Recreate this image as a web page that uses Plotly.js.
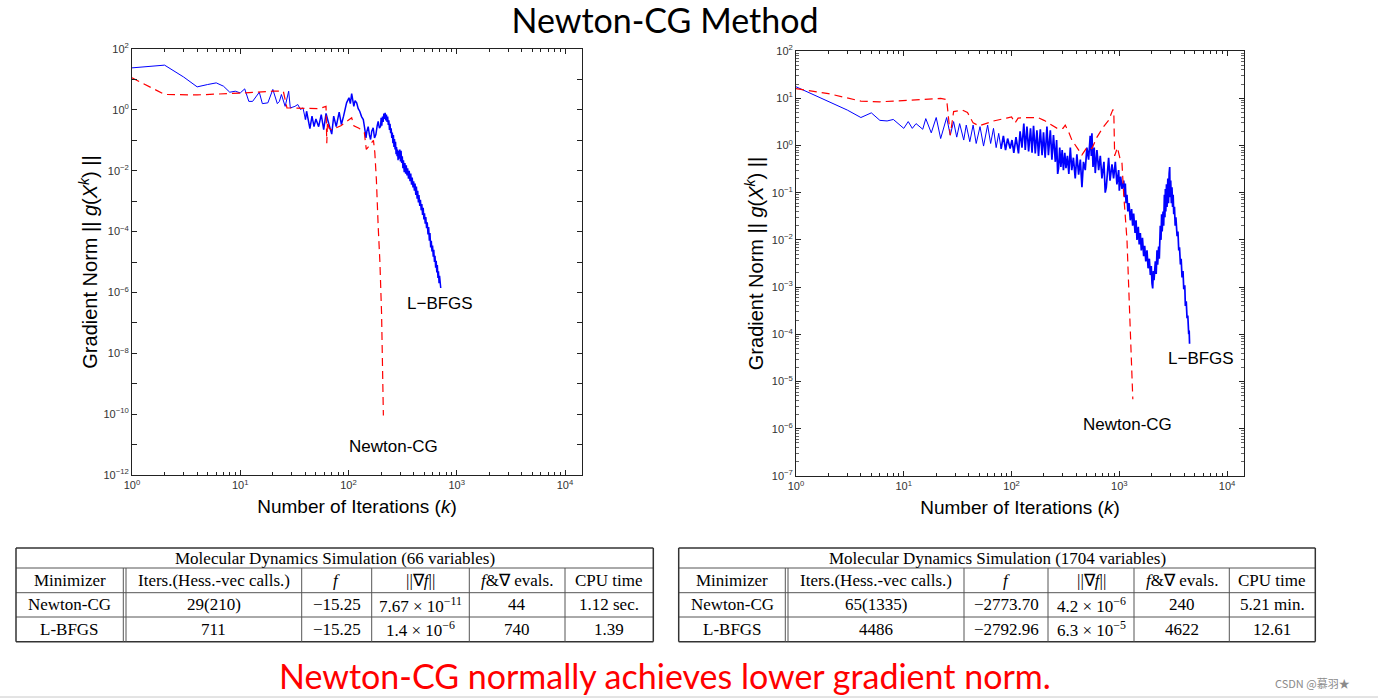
<!DOCTYPE html>
<html>
<head>
<meta charset="utf-8">
<script src="https://cdn.plot.ly/plotly-3.0.1.min.js"></script>
<style>
html,body{margin:0;padding:0;background:#fff;}
#chart{width:1378px;height:698px;}
</style>
</head>
<body>
<div id="chart"></div>
<script>
// ---------------- DATA ----------------
// Left panel: 66 variables.  [iteration (or Hess-vec calls), gradient norm]
const leftLbfgs = [[1,24],[2,29.5],[3,12],[4,5.7],[5,6.8],[6,7.7],[7,6.0],[8,3.8],[9,4.1],[10,3.6],[11,4.9],[12,1.9],[13,1.9],[14,2.6],[15,3.8],[16,1.6],[18,1.7],[20,4.7],[22,1.6],[23,1.9],[24,3.2],[26,1.3],[28,4.1],[29,1.16],[32,1.3],[34,1.5],[36,1.03],[38,1.16],[40,0.48],[41,0.9],[44,0.24],[46,0.62],[48,0.28],[50,0.5],[53,0.28],[56,0.7],[59,0.225],[62,0.76],[66,0.33],[70,0.16],[73,0.62],[77,0.28],[82,0.84],[86,0.33],[90,0.62],[96,1.7],[101,2.5],[104,1.6],[107,3.4],[110,1.8],[112,1.3],[115,2.0],[119,1.7],[123,1.1],[127,0.9],[132,0.6],[137,0.48],[141,0.25],[145,0.12],[148,0.2],[152,0.28],[156,0.15],[160,0.106],[164,0.2],[169,0.255],[174,0.12],[179,0.154],[184,0.3],[188,0.42],[193,0.25],[198,0.29],
[200,0.55],[203,0.3],[206,0.6],[209,0.4],[212,0.75],[215,0.5],[218,0.8],[221,0.45],[224,0.7],[227,0.4],[230,0.6],[233,0.32],[236,0.45],[239,0.22],[242,0.35],[245,0.17],[248,0.25],[251,0.12],[254,0.18],[257,0.08],[260,0.15],[263,0.06],[266,0.11],[269,0.05],[272,0.09],[275,0.035],[278,0.06],[281,0.03],[284,0.05],[287,0.022],[290,0.045],[294,0.025],[298,0.05],[302,0.02],[306,0.045],[310,0.018],[314,0.03],[318,0.012],[322,0.022],[327,0.009],[332,0.018],[337,0.008],[342,0.015],[347,0.007],[352,0.012],[358,0.0055],[364,0.01],[370,0.0045],[376,0.008],[382,0.0035],[388,0.006],[394,0.0028],[400,0.0045],[406,0.0022],[412,0.0038],[418,0.0016],[424,0.003],[430,0.0012],[436,0.0022],[442,0.0009],[448,0.0016],[455,0.0007],[462,0.0011],[469,0.0005],[476,0.0008],[483,0.00035],[490,0.0006],[497,0.00025],[504,0.0004],[511,0.00018],[518,0.0003],[526,0.00013],[534,0.0002],[542,0.00008],[550,0.00014],[558,0.00005],[566,0.00009],[574,0.00003],[582,0.00005],[590,0.000022],[598,0.000035],[606,0.000015],[614,0.000025],[622,0.00001],[630,0.000016],[638,0.0000065],[646,0.000011],[654,0.0000045],[662,0.000008],[670,0.000003],[678,0.000005],[686,0.000002],[694,0.0000035],[702,0.0000016],[711,0.0000014]];

const leftNewton = [[1,11.3],[2,3.2],[4,3.1],[8,3.4],[11,3.6],[20,4.1],[25,4.1],[27,1.16],[40,1.15],[54,1.1],[60,1.25],[62,1.3],[63,0.08],[64,0.42],[66,0.25],[70,0.22],[85,0.3],[100,0.45],[107,0.55],[112,0.3],[125,0.25],[140,0.18],[146,0.05],[152,0.06],[162,0.08],[170,0.1],[175,0.04],[181,0.005],[188,1.5e-4],[195,1e-5],[202,2.1e-7],[210,9e-11]];

// Right panel: 1704 variables
const rightLbfgs = [[1,17.5],[2,8.5],[3,5.6],[4,3.9],[5,4.9],[6,3.4],[7,3.3],[8,3.55],[10,2.3],[11,3.2],[12,2.3],[13,2.9],[15,2.2],[16,3.7],[18,1.85],[20,3.9],[22,1.4],[25,3.9],[27,1.65],[29,3.2],[31,1.5],[33,2.9],[36,1.3],[38,2.7],[41,1.2],[44,2.7],[47,1.1],[51,2.5],[55,0.97],[60,2.7],[64,1.1],[68,2.3],[72,0.9],[76,1.8],[80,0.85],[84,1.6],[88,0.8],[92,1.4],[97,0.86],[101,1.3],[105,0.7],[110,1.5],[116,0.68],[120,2.0],[125,0.9],[130,2.9],[134,0.8],[139,2.5],[144,0.75],[150,2.3],[155,0.7],[160,2.6],[166,0.68],[172,2.1],[178,0.6],[185,2.2],[192,0.62],[198,1.9],[205,0.55],[213,2.5],[220,0.62],[229,2.1],[237,0.5],[245,1.65],[255,0.45],[262,1.3],[268,0.25],[273,0.33],[280,0.9],[287,0.35],[295,0.8],[303,0.3],[312,0.7],[320,0.33],[330,0.6],[340,0.25],[351,0.9],[362,0.3],[375,0.55],[390,0.2],[404,0.65],[419,0.24],[435,0.5],[450,0.13],[465,0.45],[483,0.3],[500,0.9],[519,0.5],[537,1.6],[550,0.6],[557,1.8],[570,0.35],[585,0.9],[598,0.26],[620,0.8],[643,0.3],[666,0.6],[690,0.2],[720,0.45],[740,0.1],[757,0.13],[780,0.35],[796,0.55],[820,0.18],[855,0.4],[885,0.2],[918,0.45],[950,0.15],[986,0.3],[1000,0.11],[1030,0.22],[1059,0.12],[1100,0.18],
[1120,0.08],[1137,0.157],[1155,0.06],[1178,0.09],[1200,0.04],[1230,0.06],[1265,0.026],[1300,0.045],[1330,0.02],[1359,0.036],[1400,0.014],[1430,0.026],[1459,0.01],[1500,0.019],[1530,0.008],[1567,0.014],[1600,0.006],[1640,0.011],[1683,0.0045],[1720,0.0075],[1760,0.0035],[1807,0.006],[1850,0.0025],[1900,0.004],[1941,0.0018],[1980,0.0028],[2010,0.0012],[2041,0.00094],[2070,0.0022],[2100,0.0014],[2159,0.0035],[2200,0.0019],[2238,0.006],[2270,0.003],[2317,0.0072],[2350,0.004],[2400,0.02],[2437,0.01],[2470,0.035],[2500,0.015],[2545,0.04],[2580,0.02],[2620,0.09],[2650,0.03],[2675,0.12],[2700,0.04],[2740,0.15],[2772,0.05],[2820,0.2],[2860,0.06],[2900,0.25],[2934,0.35],[2960,0.08],[3000,0.18],[3040,0.06],[3082,0.13],[3120,0.05],[3160,0.09],[3199,0.035],[3250,0.05],[3300,0.02],[3350,0.03],[3436,0.012],[3500,0.015],[3560,0.006],[3620,0.007],[3690,0.003],[3750,0.004],[3820,0.0016],[3900,0.0022],[3962,0.0009],[4050,0.0011],[4100,0.0004],[4180,0.0005],[4250,0.00022],[4320,0.00025],[4405,0.0001],[4450,0.00012],[4486,0.000063]];

const rightNewton = [[1,16],[2,12.5],[4,8.7],[6,8.4],[8,8.7],[12,9.1],[22,9.9],[25,9.4],[26,3.4],[27,1.65],[29,5.2],[35,5.6],[39,5.0],[44,3.0],[50,2.6],[68,3.3],[90,3.8],[100,4.0],[108,3.0],[115,3.8],[140,3.9],[175,3.9],[200,3.4],[240,2.7],[265,2.3],[300,2.3],[315,2.7],[340,1.9],[363,1.3],[405,0.9],[450,0.63],[500,0.9],[557,0.86],[621,1.5],[705,2.4],[795,3.4],[873,5.8],[890,4.6],[905,0.6],[960,0.9],[1021,0.5],[1059,0.42],[1097,0.096],[1178,0.01],[1222,0.001],[1265,7.6e-5],[1335,4.2e-6]];

// Tick labels
const xTickVals = [1,10,100,1000,10000];
const xTickText = ['10<sup>0</sup>','10<sup>1</sup>','10<sup>2</sup>','10<sup>3</sup>','10<sup>4</sup>'];
const leftYExp = [2,1,0,-1,-2,-3,-4,-5,-6,-7,-8,-9,-10,-11,-12];
const leftYText = ['10<sup>2</sup>','','10<sup>0</sup>','','10<sup>−2</sup>','','10<sup>−4</sup>','','10<sup>−6</sup>','','10<sup>−8</sup>','','10<sup>−10</sup>','','10<sup>−12</sup>'];
const rightYExp = [2,1,0,-1,-2,-3,-4,-5,-6,-7];
const rightYText = ['10<sup>2</sup>','10<sup>1</sup>','10<sup>0</sup>','10<sup>−1</sup>','10<sup>−2</sup>','10<sup>−3</sup>','10<sup>−4</sup>','10<sup>−5</sup>','10<sup>−6</sup>','10<sup>−7</sup>'];

// Labels and text
const chartTitle = 'Newton-CG Method';
const xTitle = 'Number of Iterations (<i>k</i>)';
const yTitle = 'Gradient Norm || <i>g</i>(<i>X</i><sup><i>k</i></sup>) ||';
const seriesLabels = ['L−BFGS','Newton-CG'];
const caption = 'Newton-CG normally achieves lower gradient norm.';
const watermark = 'CSDN @慕羽★';

// Tables
const tableTitles = ['Molecular Dynamics Simulation (66 variables)','Molecular Dynamics Simulation (1704 variables)'];
const tableHeader = ['Minimizer','Iters.(Hess.-vec calls.)','<i>f</i>','||∇<i>f</i>||','<i>f</i>&amp;∇ evals.','CPU time'];
const table1Rows = [
  ['Newton-CG','29(210)','−15.25','7.67 × 10<sup>−11</sup>','44','1.12 sec.'],
  ['L-BFGS','711','−15.25','1.4 × 10<sup>−6</sup>','740','1.39']
];
const table2Rows = [
  ['Newton-CG','65(1335)','−2773.70','4.2 × 10<sup>−6</sup>','240','5.21 min.'],
  ['L-BFGS','4486','−2792.96','6.3 × 10<sup>−5</sup>','4622','12.61']
];

// ---------------- LAYOUT HELPERS ----------------
const W = 1378, H = 698;
const px = x => x / W;
const py = y => 1 - y / H;
const xs = a => a.map(p => p[0]);
const ys = a => a.map(p => p[1]);
// split a series for styling: sparse early part drawn thin, dense part drawn heavier
const upTo = (a, k) => a.filter(p => p[0] <= k);
const from = (a, k) => a.filter(p => p[0] >= k);

function minorVals(lo, hi){
  const out = [];
  for(let d = lo; d < hi; d++){
    for(let m = 2; m <= 9; m++) out.push(m * Math.pow(10, d));
  }
  return out;
}

const BLUE = '#0000ff', RED = '#ff0000';
const SANS = 'Liberation Sans, Arial, Helvetica, sans-serif';
const SERIF = 'Liberation Serif, Times New Roman, serif';

function blue(arr, ax, ay, w){
  return {x: xs(arr), y: ys(arr), xaxis:ax, yaxis:ay, mode:'lines', name:'L-BFGS', line:{color:BLUE, width:w}};
}
function red(arr, ax, ay){
  return {x: xs(arr), y: ys(arr), xaxis:ax, yaxis:ay, mode:'lines', name:'Newton-CG', line:{color:RED, width:1.2, dash:'8px,5px'}};
}

const traces = [
  blue(upTo(leftLbfgs, 40), 'x', 'y', 1),
  blue(from(leftLbfgs, 40), 'x', 'y', 1.5),
  red(leftNewton, 'x', 'y'),
  blue(upTo(rightLbfgs, 80), 'x2', 'y2', 1),
  blue(from(rightLbfgs, 80), 'x2', 'y2', 1.7),
  red(rightNewton, 'x2', 'y2')
];

function xAxis(domain, anchor){
  return {
    type:'log', domain: domain, anchor: anchor, range:[0, 4.157],
    tickmode:'array', tickvals: xTickVals, ticktext: xTickText,
    ticks:'inside', ticklen:5, tickcolor:'#222', tickwidth:1,
    showline:true, linecolor:'#222', linewidth:1, mirror:'ticks',
    showgrid:false, zeroline:false,
    minor:{tickmode:'array', tickvals: minorVals(0,5), ticks:'inside', ticklen:3, tickcolor:'#222', showgrid:false},
    tickfont:{family:SANS, size:11, color:'#333'},
    title:{text:xTitle, font:{family:SANS, size:19, color:'#000'}, standoff:9}
  };
}
function yAxis(domain, anchor, exps, texts, withMinor, standoff){
  const ax = {
    type:'log', domain: domain, anchor: anchor,
    range:[exps[exps.length-1], exps[0]],
    tickmode:'array', tickvals: exps.map(e => Math.pow(10, e)), ticktext: texts,
    ticks:'inside', ticklen:5, tickcolor:'#222', tickwidth:1,
    showline:true, linecolor:'#222', linewidth:1, mirror:'ticks',
    showgrid:false, zeroline:false,
    tickfont:{family:SANS, size:11, color:'#333'},
    title:{text:yTitle, font:{family:SANS, size:20, color:'#000'}, standoff: standoff}
  };
  if(withMinor){
    ax.minor = {tickmode:'array', tickvals: minorVals(exps[exps.length-1], exps[0]), ticks:'inside', ticklen:3, tickcolor:'#666', showgrid:false};
  }
  return ax;
}

const annotations = [];
const shapes = [];

// series labels inside plots
function label(text, x, y){
  annotations.push({text:text, xref:'paper', yref:'paper', x:px(x), y:py(y), xanchor:'center', yanchor:'middle',
    showarrow:false, font:{family:SANS, size:17, color:'#000'}});
}
label(seriesLabels[0], 440, 303);
label(seriesLabels[1], 393, 446);
label(seriesLabels[0], 1201, 358);
label(seriesLabels[1], 1127, 424);

// caption & watermark
annotations.push({text:caption, xref:'paper', yref:'paper', x:px(665), y:py(675), xanchor:'center', yanchor:'middle',
  showarrow:false, font:{family:'Lato, Open Sans, sans-serif', size:34, color:RED}});
annotations.push({text:watermark, xref:'paper', yref:'paper', x:px(1312), y:py(683), xanchor:'center', yanchor:'middle',
  showarrow:false, font:{family:'Noto Sans CJK SC, Noto Sans, sans-serif', size:11, color:'#8a8a8a'}});
shapes.push({type:'line', xref:'paper', yref:'paper', x0:0, x1:1, y0:py(697), y1:py(697), line:{color:'#c8c8c8', width:1}});

// tables
function drawTable(edges, title, rows){
  const rowsY = [548, 568, 592.7, 617, 641.7];
  const left = edges[0], right = edges[edges.length-1];
  const dark = '#333', inner = '#555';
  rowsY.forEach((y, i) => {
    const outer = (i === 0 || i === rowsY.length-1);
    shapes.push({type:'line', xref:'paper', yref:'paper', x0:px(left), x1:px(right), y0:py(y), y1:py(y),
      line:{color: outer ? dark : inner, width: outer ? 1.5 : 1}});
  });
  [left, right].forEach(x => shapes.push({type:'line', xref:'paper', yref:'paper', x0:px(x), x1:px(x), y0:py(rowsY[0]), y1:py(rowsY[4]),
    line:{color:dark, width:1.5}}));
  edges.slice(1, -1).forEach(x => shapes.push({type:'line', xref:'paper', yref:'paper', x0:px(x), x1:px(x), y0:py(rowsY[1]), y1:py(rowsY[4]),
    line:{color:inner, width:1}}));
  const font = {family:SERIF, size:17, color:'#000'};
  annotations.push({text:title, xref:'paper', yref:'paper', x:px((left+right)/2), y:py((rowsY[0]+rowsY[1])/2),
    xanchor:'center', yanchor:'middle', showarrow:false, font:font});
  const cols = [[edges[0],edges[1]],[edges[2],edges[3]],[edges[3],edges[4]],[edges[4],edges[5]],[edges[5],edges[6]],[edges[6],edges[7]]];
  const allRows = [tableHeader].concat(rows);
  allRows.forEach((r, ri) => {
    const yc = (rowsY[ri+1] + rowsY[ri+2]) / 2;
    r.forEach((t, ci) => {
      annotations.push({text:t, xref:'paper', yref:'paper', x:px((cols[ci][0]+cols[ci][1])/2), y:py(yc),
        xanchor:'center', yanchor:'middle', showarrow:false, font:font});
    });
  });
}
drawTable([16,123.3,126,301.7,371.7,469.3,565,653.3], tableTitles[0], table1Rows);
drawTable([678.7,785.3,788,964,1048,1134,1229.3,1315.3], tableTitles[1], table2Rows);

const layout = {
  width: W, height: H,
  margin:{l:0, r:0, t:0, b:0},
  paper_bgcolor:'#fff', plot_bgcolor:'#fff',
  showlegend:false,
  title:{text:chartTitle, x:px(665), xref:'paper', xanchor:'center', y:py(21), yref:'container', yanchor:'middle',
    font:{family:'Lato, Open Sans, sans-serif', size:34, color:'#000'}},
  xaxis: xAxis([px(132), px(582)], 'y'),
  yaxis: yAxis([py(475), py(49)], 'x', leftYExp, leftYText, false, 0),
  xaxis2: xAxis([px(796), px(1244)], 'y2'),
  yaxis2: yAxis([py(476), py(51)], 'x2', rightYExp, rightYText, true, 2),
  annotations: annotations,
  shapes: shapes
};

Plotly.newPlot('chart', traces, layout, {displayModeBar:false, staticPlot:true});
</script>
</body>
</html>
